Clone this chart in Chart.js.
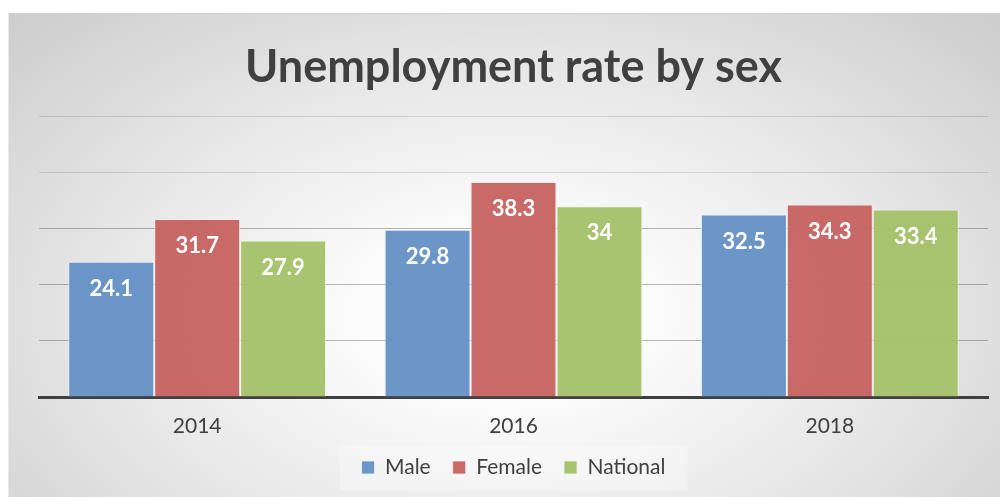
<!DOCTYPE html>
<html>
<head>
<meta charset="utf-8">
<script src="https://cdn.jsdelivr.net/npm/chart.js@4.4.0/dist/chart.umd.min.js"></script>
<style>
  html, body { margin: 0; padding: 0; background: #ffffff; }
  body { width: 1000px; height: 497px; position: relative; overflow: hidden; }
  #frame {
    position: absolute; left: 8px; top: 13px; width: 992px; height: 484px;
    background: radial-gradient(ellipse 75% 95% at 50% 62%, #ffffff 0%, #fbfbfb 20%, #e6e6e6 55%, #c8c8c8 100%);
    border-top: 1px solid #d0d0d0; border-left: 1px solid #e8e8e8; box-sizing: border-box;
  }
  #frame canvas { position: absolute; left: 0; top: 0; }
</style>
</head>
<body>
<div id="frame"><canvas id="c" width="991" height="483"></canvas></div>
<script>
const categories = ["2014", "2016", "2018"];
const maleValues = [24.1, 29.8, 32.5];
const femaleValues = [31.7, 38.3, 34.3];
const nationalValues = [27.9, 34, 33.4];
const seriesNames = ["Male", "Female", "National"];

const FONT = "Lato, 'Open Sans', sans-serif";

const dataLabelPlugin = {
  id: 'dataLabels',
  afterDatasetsDraw(chart) {
    const ctx = chart.ctx;
    ctx.save();
    ctx.fillStyle = '#ffffff';
    ctx.font = "bold 22px " + FONT;
    ctx.textAlign = 'center';
    ctx.textBaseline = 'middle';
    chart.data.datasets.forEach((ds, i) => {
      const meta = chart.getDatasetMeta(i);
      meta.data.forEach((bar, j) => {
        ctx.fillText(String(ds.data[j]), bar.x, bar.y + 27);
      });
    });
    ctx.restore();
  }
};

const legendBgPlugin = {
  id: 'legendBg',
  beforeDraw(chart) {
    const lg = chart.legend;
    if (!lg || !lg.legendHitBoxes || !lg.legendHitBoxes.length) return;
    const boxes = lg.legendHitBoxes;
    let l = Infinity, r = -Infinity, t = Infinity, b = -Infinity;
    boxes.forEach(h => { l = Math.min(l, h.left); r = Math.max(r, h.left + h.width); t = Math.min(t, h.top); b = Math.max(b, h.top + h.height); });
    const ctx = chart.ctx;
    ctx.save();
    ctx.fillStyle = 'rgba(255,255,255,0.3)';
    const cy = (t + b) / 2;
    ctx.fillRect(l - 22, cy - 22, (r - l) + 44, 45);
    ctx.restore();
  }
};

new Chart(document.getElementById('c'), {
  type: 'bar',
  data: {
    labels: categories,
    datasets: [
      { label: seriesNames[0], data: maleValues, backgroundColor: 'rgba(100,144,196,0.95)', borderColor: 'rgba(235,240,248,0.8)', borderWidth: 1 },
      { label: seriesNames[1], data: femaleValues, backgroundColor: 'rgba(198,98,97,0.95)', borderColor: 'rgba(248,235,235,0.8)', borderWidth: 1 },
      { label: seriesNames[2], data: nationalValues, backgroundColor: 'rgba(164,193,104,0.95)', borderColor: 'rgba(240,246,232,0.8)', borderWidth: 1 }
    ]
  },
  options: {
    responsive: false,
    animation: false,
    devicePixelRatio: 1,
    layout: { padding: { left: 30, right: 12, top: 0, bottom: 9 } },
    datasets: { bar: { categoryPercentage: 0.815, barPercentage: 1.0 } },
    scales: {
      x: {
        grid: { display: false, drawTicks: false },
        border: { display: true, color: '#404040', width: 3 },
        ticks: { color: '#404040', font: { family: FONT, size: 21 }, padding: 17 },
        afterFit: (scale) => { scale.height = 38; }
      },
      y: {
        min: 0, max: 50,
        ticks: { display: false, stepSize: 10 },
        border: { display: false },
        grid: {
          drawTicks: false,
          lineWidth: 1,
          color: (c) => (c.tick && c.tick.value >= 40) ? 'rgba(0,0,0,0.13)' : 'rgba(0,0,0,0.28)'
        }
      }
    },
    plugins: {
      tooltip: { enabled: false },
      title: {
        display: true,
        text: 'Unemployment rate by sex',
        color: '#404040',
        font: { family: FONT, size: 45, weight: 'bold', lineHeight: 1.2 },
        padding: { top: 26, bottom: 22.4 }
      },
      legend: {
        position: 'bottom',
        labels: {
          color: '#404040',
          font: { family: FONT, size: 21 },
          boxWidth: 13, boxHeight: 13,
          padding: 22
        }
      }
    }
  },
  plugins: [legendBgPlugin, dataLabelPlugin]
});
</script>
</body>
</html>
